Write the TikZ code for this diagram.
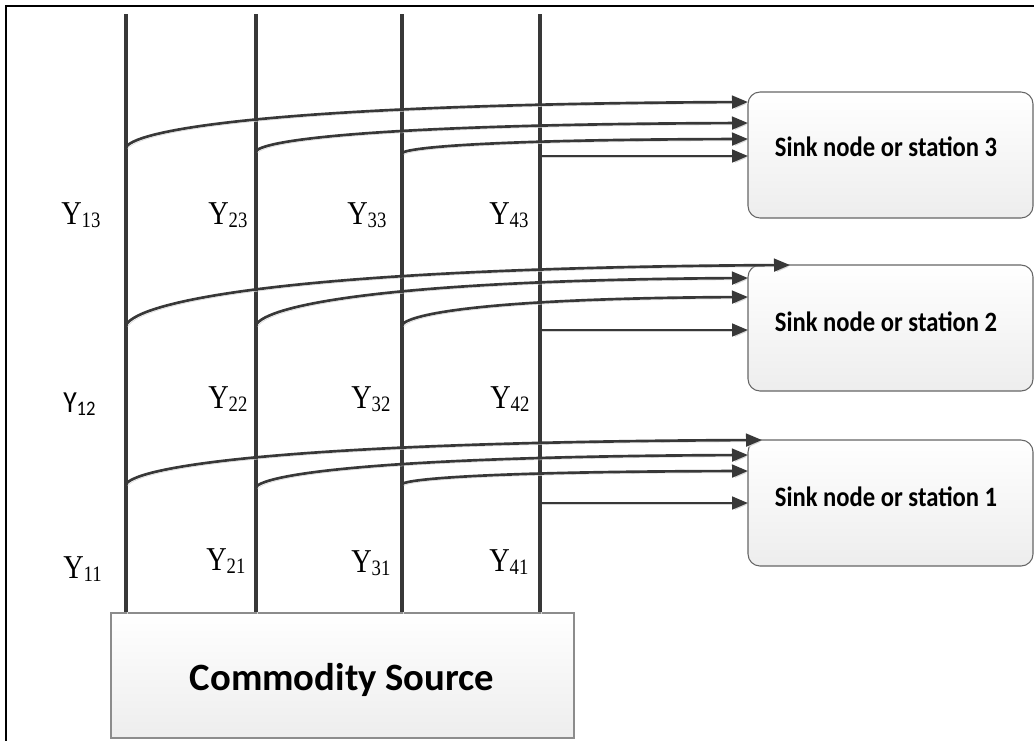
\documentclass[tikz,border=0pt]{standalone}
\usepackage{fontspec}
\usepackage{graphicx}
\setmainfont{Liberation Serif}
\newfontfamily\calib{Carlito}
\usetikzlibrary{arrows.meta,calc}

\definecolor{wiregray}{HTML}{383838}

% flow variable Y with its two-digit index, set slightly condensed
\newcommand\yvar[1]{\scalebox{0.85}[1]{\fontsize{25}{28}\selectfont Y\raisebox{-2.5pt}{\fontsize{16.5}{18}\selectfont #1}}}
\newcommand\yvarsf[1]{\scalebox{0.9}[1]{\calib\fontsize{23}{26}\selectfont Y\raisebox{-2.5pt}{\fontsize{15.5}{17}\selectfont #1}}}

\tikzset{
  soft shadow/.style={preaction={draw=black!16, transform canvas={shift={(1.3pt,-1.3pt)}}}},
  rail/.style={draw=wiregray, line width=2.5pt, soft shadow},
  tip/.style={-{Triangle[length=12pt,width=9.5pt]}},
  flow/.style={draw=wiregray, line width=2pt, tip, soft shadow,
    to path={let \p1=(\tikztostart), \p2=(\tikztotarget) in
      .. controls ({\x1+0.02*(\x2-\x1)},{\y1+0.4*(\y2-\y1)})
      and ({\x1+0.25*(\x2-\x1)},{\y1+0.95*(\y2-\y1)}) .. (\tikztotarget) \tikztonodes}},
  straight/.style={draw=wiregray, line width=2pt, tip, soft shadow},
  sink/.style={draw=black!60, line width=0.8pt, rounded corners=9pt,
    top color=white, bottom color=black!7,
    minimum width=213.75pt, minimum height=94.5pt, inner sep=0pt},
  source/.style={draw=black!45, line width=0.8pt,
    top color=white, bottom color=black!7,
    minimum width=347.25pt, minimum height=93.75pt, inner sep=0pt},
  sinktext/.style={inner sep=0pt},
  srctext/.style={inner sep=0pt, font=\calib\bfseries\fontsize{29}{31}\selectfont},
  ylab/.style={anchor=base west, inner sep=0pt},
}
\newcommand\sinklabel[1]{\scalebox{0.88}[1]{\calib\bfseries\fontsize{21}{23}\selectfont #1}}

\begin{document}
\begin{tikzpicture}[x=0.75pt, y=-0.75pt]
\useasboundingbox (0,0) rectangle (1034,740);
\clip (0,0) rectangle (1034,740);

% outer frame
\draw[line width=1.5pt] (6,6) rectangle (1050,760);

% boxes
\node[source] (src) at (342.5,675.5) {};
\node[srctext] (srct) at (342,680) {Commodity Source};

\node[sink] (sink3) at (890.5,155) {};
\node[sink] (sink2) at (890.5,328) {};
\node[sink] (sink1) at (890.5,503) {};
\node[sinktext] (sink3t) at (886,147) {\sinklabel{Sink node or station 3}};
\node[sinktext] (sink2t) at (886,322) {\sinklabel{Sink node or station 2}};
\node[sinktext] (sink1t) at (886,497) {\sinklabel{Sink node or station 1}};

% vertical supply lines
\foreach \i/\x in {1/126, 2/256, 3/402, 4/540} {
  \coordinate (top\i) at (\x,14);
  \draw[rail] (top\i) -- (top\i |- src.north);
}

% branch points
\coordinate (b13) at (126,147); \coordinate (b23) at (256,151);
\coordinate (b33) at (402,153); \coordinate (b43) at (540,156);
\coordinate (b12) at (126,325); \coordinate (b22) at (256,325);
\coordinate (b32) at (402,325); \coordinate (b42) at (540,330);
\coordinate (b11) at (126,484); \coordinate (b21) at (256,487);
\coordinate (b31) at (402,484); \coordinate (b41) at (540,503);

% arrow ends on the sink boxes
\coordinate (e13) at (748,102); \coordinate (e23) at (748,123);
\coordinate (e33) at (748,139); \coordinate (e43) at (748,156);
\coordinate (e12) at (790,265); \coordinate (e22) at (748,278);
\coordinate (e32) at (748,297); \coordinate (e42) at (748,330);
\coordinate (e11) at (762,440); \coordinate (e21) at (748,455);
\coordinate (e31) at (748,471); \coordinate (e41) at (748,503);

\foreach \k in {1,2,3} {
  \draw[flow] (b1\k) to (e1\k);
  \draw[flow] (b2\k) to (e2\k);
  \draw[flow] (b3\k) to (e3\k);
  \draw[straight] (b4\k) -- (e4\k);
}

% flow variables
\node[ylab] (y13) at (61,224) {\yvar{13}};
\node[ylab] (y23) at (208,224) {\yvar{23}};
\node[ylab] (y33) at (347,224) {\yvar{33}};
\node[ylab] (y43) at (489,224) {\yvar{43}};

\node[ylab] (y12) at (63,412) {\yvarsf{12}};
\node[ylab] (y22) at (208,408) {\yvar{22}};
\node[ylab] (y32) at (351,408) {\yvar{32}};
\node[ylab] (y42) at (490,408) {\yvar{42}};

\node[ylab] (y11) at (63,578) {\yvar{11}};
\node[ylab] (y21) at (206,570) {\yvar{21}};
\node[ylab] (y31) at (351,572) {\yvar{31}};
\node[ylab] (y41) at (489,571) {\yvar{41}};
\end{tikzpicture}
\end{document}
